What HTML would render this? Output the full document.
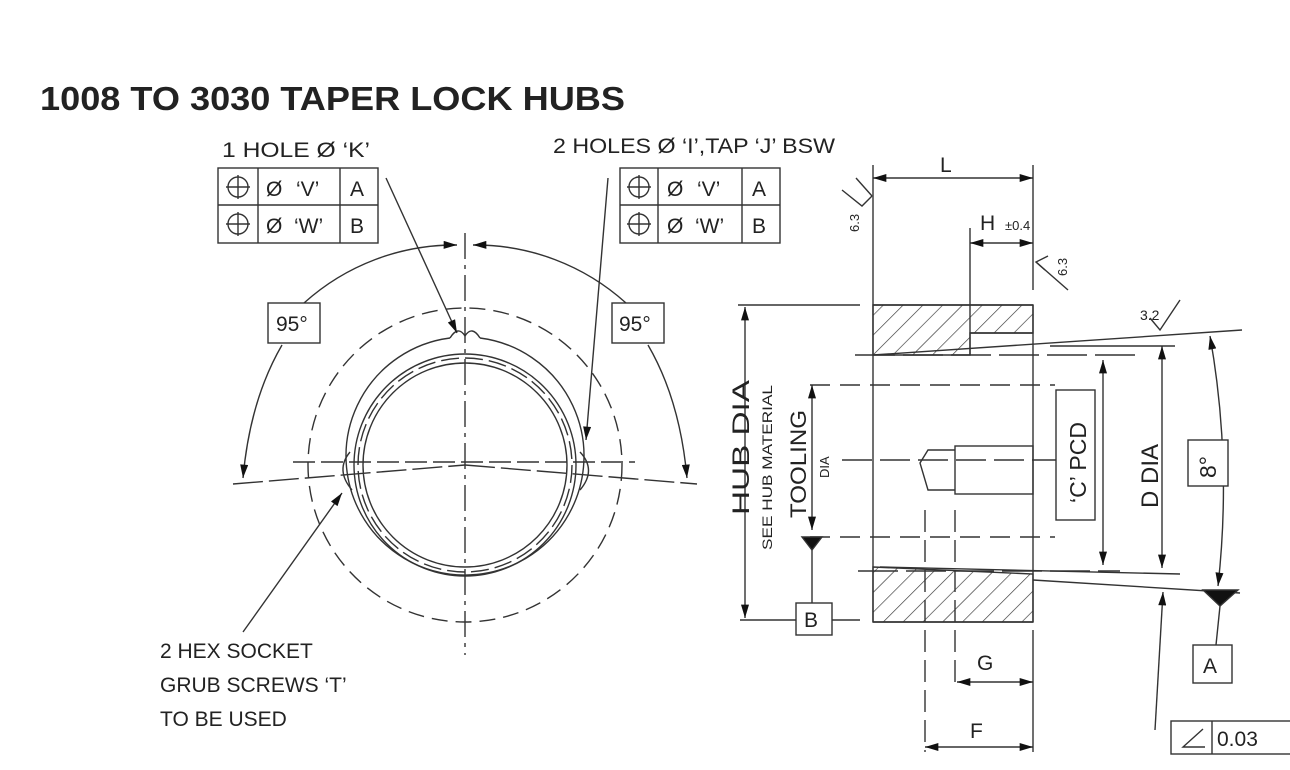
<!DOCTYPE html>
<html><head><meta charset="utf-8"><style>
html,body{margin:0;padding:0;background:#fff;}
svg{display:block;}
text{font-family:"Liberation Sans",sans-serif;fill:#222;}
</style></head><body>
<svg width="1290" height="770" viewBox="0 0 1290 770" xmlns="http://www.w3.org/2000/svg">
<defs>
<marker id="ar" viewBox="0 0 10 6" refX="10" refY="3" markerWidth="14" markerHeight="8" markerUnits="userSpaceOnUse" orient="auto-start-reverse"><path d="M0,0L10,3L0,6z" fill="#111"/></marker>
<pattern id="hat" width="14" height="14" patternUnits="userSpaceOnUse" patternTransform="rotate(45)"><line x1="0" y1="0" x2="0" y2="14" stroke="#333" stroke-width="1.3"/></pattern>
</defs>
<text x="40" y="110" font-size="33" font-weight="bold" textLength="585" lengthAdjust="spacingAndGlyphs">1008 TO 3030 TAPER LOCK HUBS</text>

<g stroke="#333" stroke-width="1.4" fill="none">
<rect x="218" y="168" width="160" height="75"/><line x1="218" y1="205" x2="378" y2="205"/><line x1="258" y1="168" x2="258" y2="243"/><line x1="340" y1="168" x2="340" y2="243"/>
<rect x="620" y="168" width="160" height="75"/><line x1="620" y1="205" x2="780" y2="205"/><line x1="658" y1="168" x2="658" y2="243"/><line x1="742" y1="168" x2="742" y2="243"/>
<circle cx="238" cy="187" r="10"/><line x1="226" y1="187" x2="250" y2="187"/><line x1="238" y1="175" x2="238" y2="199"/>
<circle cx="238" cy="224" r="10"/><line x1="226" y1="224" x2="250" y2="224"/><line x1="238" y1="212" x2="238" y2="236"/>
<circle cx="639" cy="187" r="10"/><line x1="627" y1="187" x2="651" y2="187"/><line x1="639" y1="175" x2="639" y2="199"/>
<circle cx="639" cy="224" r="10"/><line x1="627" y1="224" x2="651" y2="224"/><line x1="639" y1="212" x2="639" y2="236"/>

<circle cx="465" cy="465" r="157" stroke-dasharray="16,8"/>
<line x1="465" y1="233" x2="465" y2="655" stroke-dasharray="26,6,4,6"/>
<line x1="293" y1="462" x2="635" y2="462" stroke-dasharray="22,6"/>
<line x1="233" y1="484" x2="465" y2="465" stroke-dasharray="30,6"/>
<line x1="465" y1="465" x2="697" y2="484" stroke-dasharray="30,6"/>
<path d="M450,338 A119,119 0 1 0 480,338" />
<path d="M450,338 Q458,325 465,336 Q472,325 480,338" />
<circle cx="465" cy="465" r="111" />
<circle cx="465" cy="465" r="107" stroke-dasharray="18,6"/>
<circle cx="465" cy="465" r="102"/>
<path d="M350,452 Q335,470 352,490" /><path d="M580,452 Q597,470 580,490"/>
<path d="M304,303 A225,225 0 0 1 457,245" marker-end="url(#ar)"/>
<path d="M626,303 A225,225 0 0 0 473,245" marker-end="url(#ar)"/>
<path d="M282,345 Q250,400 243,478" marker-end="url(#ar)"/>
<path d="M648,345 Q680,400 687,478" marker-end="url(#ar)"/>
<line x1="386" y1="178" x2="457" y2="333" marker-end="url(#ar)"/>
<line x1="608" y1="178" x2="586" y2="440" marker-end="url(#ar)"/>
<line x1="243" y1="632" x2="342" y2="493" marker-end="url(#ar)"/>
<rect x="268" y="303" width="52" height="40" fill="#fff"/>
<rect x="612" y="303" width="52" height="40" fill="#fff"/>

<path d="M873,305H1033V333H970V355H873Z" fill="url(#hat)"/>
<path d="M873,567L1033,574V622H873Z" fill="url(#hat)"/>
<line x1="873" y1="305" x2="1033" y2="305"/><line x1="873" y1="622" x2="1033" y2="622"/>
<line x1="873" y1="165" x2="873" y2="622"/>
<line x1="1033" y1="165" x2="1033" y2="290"/><line x1="1033" y1="305" x2="1033" y2="622"/>
<line x1="970" y1="228" x2="970" y2="355"/><line x1="970" y1="333" x2="1033" y2="333"/>
<line x1="873" y1="355" x2="1242" y2="330"/>
<line x1="880" y1="567" x2="1180" y2="574"/>
<line x1="1033" y1="580" x2="1240" y2="593"/>
<line x1="1050" y1="346" x2="1175" y2="346"/>
<line x1="855" y1="355" x2="1135" y2="355" stroke-dasharray="40,8"/>
<line x1="858" y1="571" x2="1120" y2="571" stroke-dasharray="40,8"/>
<line x1="810" y1="385" x2="1055" y2="385" stroke-dasharray="20,10"/>
<line x1="810" y1="537" x2="1055" y2="537" stroke-dasharray="20,10"/>
<line x1="842" y1="460" x2="1060" y2="460" stroke-dasharray="30,8"/>
<rect x="955" y="446" width="78" height="48"/>
<path d="M955,450H928L920,463L928,490H955"/>
<line x1="738" y1="305" x2="860" y2="305"/>
<line x1="740" y1="620" x2="860" y2="620"/>
<line x1="745" y1="307" x2="745" y2="618" marker-start="url(#ar)" marker-end="url(#ar)"/>
<line x1="812" y1="385" x2="812" y2="530" marker-start="url(#ar)" marker-end="url(#ar)"/>
<path d="M802,537H822L812,550Z" fill="#111"/>
<line x1="812" y1="550" x2="812" y2="603"/>
<rect x="796" y="603" width="36" height="32" fill="#fff"/>
<line x1="873" y1="178" x2="1033" y2="178" marker-start="url(#ar)" marker-end="url(#ar)"/>
<line x1="970" y1="243" x2="1033" y2="243" marker-start="url(#ar)" marker-end="url(#ar)"/>
<rect x="1056" y="390" width="39" height="130" fill="#fff"/>
<line x1="1103" y1="360" x2="1103" y2="565" marker-start="url(#ar)" marker-end="url(#ar)"/>
<line x1="1162" y1="346" x2="1162" y2="568" marker-start="url(#ar)" marker-end="url(#ar)"/>
<line x1="1155" y1="730" x2="1163" y2="592" marker-end="url(#ar)"/>
<path d="M1210,336 Q1232,460 1218,586" marker-start="url(#ar)" marker-end="url(#ar)"/>
<rect x="1188" y="440" width="40" height="46" fill="#fff"/>
<path d="M1203,590H1238L1220,606Z" fill="#111"/>
<line x1="1220" y1="606" x2="1216" y2="645"/>
<rect x="1193" y="645" width="39" height="38"/>
<rect x="1171" y="721" width="125" height="33"/><line x1="1212" y1="721" x2="1212" y2="754"/>
<path d="M1203,729L1183,747H1205"/>
<line x1="925" y1="510" x2="925" y2="752" stroke-dasharray="22,8"/>
<line x1="955" y1="510" x2="955" y2="690" stroke-dasharray="22,8"/>
<line x1="1033" y1="630" x2="1033" y2="752"/>
<line x1="957" y1="682" x2="1033" y2="682" marker-start="url(#ar)" marker-end="url(#ar)"/>
<line x1="925" y1="747" x2="1033" y2="747" marker-start="url(#ar)" marker-end="url(#ar)"/>
<path d="M842,190L862,206L872,196"/><line x1="872" y1="196" x2="856" y2="178"/>
<path d="M1045,270L1036,262L1048,256"/><line x1="1036" y1="262" x2="1068" y2="290"/>
<path d="M1150,318L1160,330L1180,300"/>
</g>

<g font-size="21">
<text x="222" y="157" textLength="148" lengthAdjust="spacingAndGlyphs">1 HOLE Ø ‘K’</text>
<text x="553" y="153" textLength="282" lengthAdjust="spacingAndGlyphs">2 HOLES Ø ‘I’,TAP ‘J’ BSW</text>
<text x="266" y="196">Ø</text><text x="296" y="196">‘V’</text><text x="350" y="196">A</text>
<text x="266" y="233">Ø</text><text x="294" y="233">‘W’</text><text x="350" y="233">B</text>
<text x="667" y="196">Ø</text><text x="697" y="196">‘V’</text><text x="752" y="196">A</text>
<text x="667" y="233">Ø</text><text x="695" y="233">‘W’</text><text x="752" y="233">B</text>
<text x="276" y="331">95°</text><text x="619" y="331">95°</text>
<text x="160" y="658">2 HEX SOCKET</text>
<text x="160" y="692">GRUB SCREWS ‘T’</text>
<text x="160" y="726">TO BE USED</text>
<text x="940" y="172">L</text>
<text x="980" y="230">H</text><text x="1005" y="230" font-size="13">±0.4</text>
<text x="804" y="627">B</text>
<text x="1203" y="673">A</text>
<text x="1217" y="746">0.03</text>
<text x="977" y="670">G</text>
<text x="970" y="738">F</text>
<text x="1140" y="320" font-size="14">3.2</text>
<text transform="translate(749,515) rotate(-90)" font-size="24" textLength="135" lengthAdjust="spacingAndGlyphs">HUB DIA</text>
<text transform="translate(772,550) rotate(-90)" font-size="14" textLength="165" lengthAdjust="spacingAndGlyphs">SEE HUB MATERIAL</text>
<text transform="translate(806,518) rotate(-90)" font-size="22" textLength="108" lengthAdjust="spacingAndGlyphs">TOOLING</text>
<text transform="translate(829,478) rotate(-90)" font-size="13">DIA</text>
<text transform="translate(1086,503) rotate(-90)" font-size="23">‘C’  PCD</text>
<text transform="translate(1158,508) rotate(-90)" font-size="24">D DIA</text>
<text transform="translate(1216,478) rotate(-90)" font-size="23">8°</text>
<text transform="translate(859,232) rotate(-90)" font-size="13">6.3</text>
<text transform="translate(1067,276) rotate(-90)" font-size="13">6.3</text>
</g>
</svg>
</body></html>
